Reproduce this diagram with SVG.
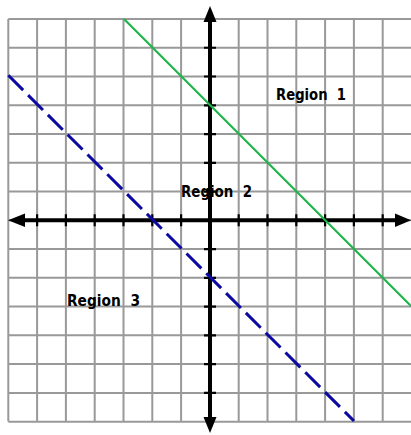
<svg xmlns="http://www.w3.org/2000/svg" width="411" height="435" viewBox="0 0 411 435">
<style>
.grid{stroke:#999;stroke-width:2;fill:none}
.axis{stroke:#000;stroke-width:4;fill:none}
.tick{stroke:#000;stroke-width:2.2;fill:none}
.lbl{font-family:"Comic Sans MS","DejaVu Sans","Liberation Sans",sans-serif;font-weight:bold;font-size:15.5px;fill:#000}
</style>
<rect width="411" height="435" fill="#fff"/>
<g id="grid">
<path class="grid" d="M8.3 19V421.6M37.1 19V421.6M65.9 19V421.6M94.7 19V421.6M123.5 19V421.6M152.3 19V421.6M181.1 19V421.6M209.9 19V421.6M238.7 19V421.6M267.5 19V421.6M296.3 19V421.6M325.1 19V421.6M353.9 19V421.6M382.7 19V421.6
M8.3 19H411M8.3 47.76H411M8.3 76.52H411M8.3 105.28H411M8.3 134.04H411M8.3 162.8H411M8.3 191.56H411M8.3 220.32H411M8.3 249.08H411M8.3 277.84H411M8.3 306.6H411M8.3 335.36H411M8.3 364.12H411M8.3 392.88H411M8.3 421.64H411"/>
</g>
<g id="axes">
<path class="axis" d="M210 20V420M22 220.3H398"/>
<path class="tick" d="M204 47.76H216M204 76.52H216M204 105.28H216M204 134.04H216M204 162.8H216M204 191.56H216M204 249.08H216M204 277.84H216M204 306.6H216M204 335.36H216M204 364.12H216M204 392.88H216
M37.1 214.3V226.3M65.9 214.3V226.3M94.7 214.3V226.3M123.5 214.3V226.3M152.3 214.3V226.3M181.1 214.3V226.3M238.7 214.3V226.3M267.5 214.3V226.3M296.3 214.3V226.3M325.1 214.3V226.3M353.9 214.3V226.3M382.7 214.3V226.3"/>
<polygon points="210,6 203.5,22 216.5,22" fill="#000"/>
<polygon points="210,433 203.5,417 216.5,417" fill="#000"/>
<polygon points="8,220.3 25,213.5 25,227" fill="#000"/>
<polygon points="411,220.3 395,213.5 395,227" fill="#000"/>
</g>
<g id="connectors">
<line id="green-line" x1="124" y1="19" x2="411" y2="306" stroke="#1fb34b" stroke-width="2.2"/>
<line id="blue-line" x1="8.3" y1="75.3" x2="354" y2="421" stroke="#0a0aa0" stroke-width="3" stroke-dasharray="21 7"/>
</g>
<g id="region1"><text class="lbl" x="276" y="100" textLength="70" lengthAdjust="spacingAndGlyphs">Region&#160; 1</text></g>
<g id="region2"><text class="lbl" x="181" y="197" textLength="71" lengthAdjust="spacingAndGlyphs">Region&#160; 2</text></g>
<g id="region3"><text class="lbl" x="67" y="306" textLength="73" lengthAdjust="spacingAndGlyphs">Region&#160; 3</text></g>
</svg>
